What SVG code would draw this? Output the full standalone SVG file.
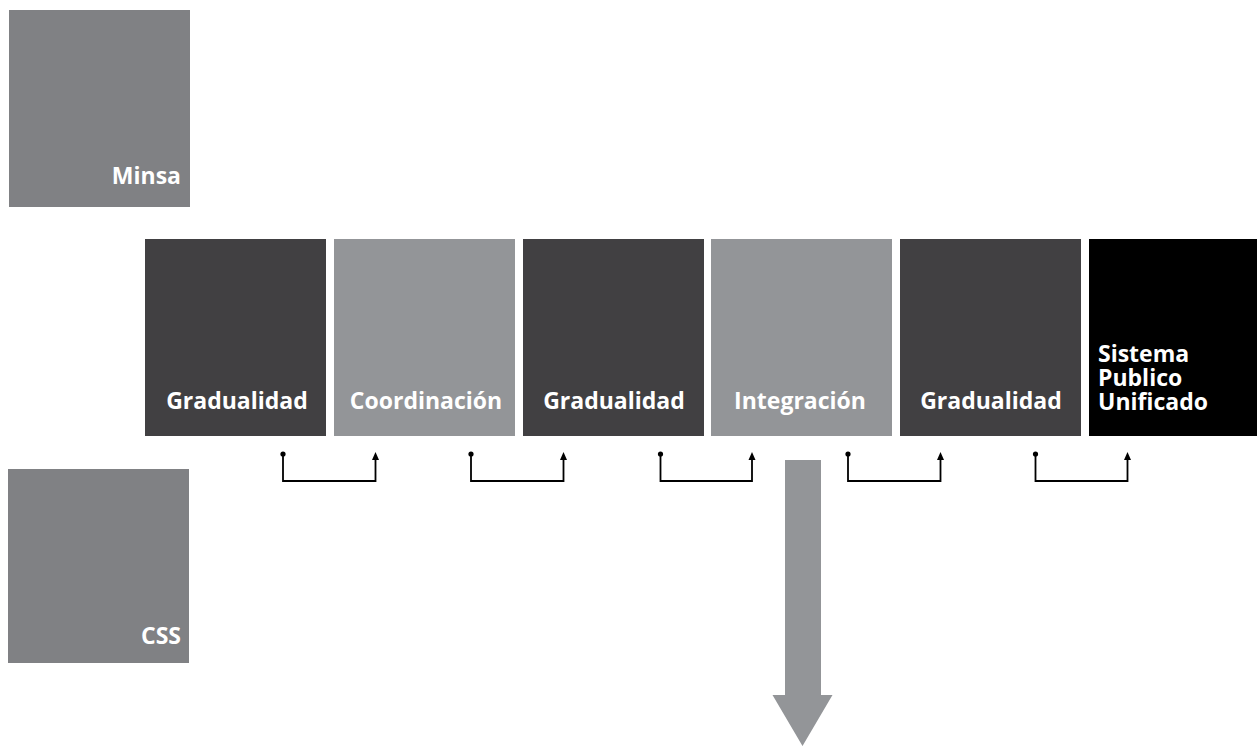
<svg xmlns="http://www.w3.org/2000/svg" width="1257" height="746" viewBox="0 0 1257 746">
<defs>
<style>
.lbl{font-family:"Open Sans","Noto Sans","Liberation Sans",sans-serif;font-weight:bold;fill:#fff;font-size:23px}
.side{fill:#808184}
.dark{fill:#414042}
.light{fill:#939598}
.black{fill:#000}
.conn{fill:none;stroke:#000;stroke-width:1.8}
</style>
</defs>
<rect width="1257" height="746" fill="#fff"/>
<g id="minsa"><rect class="side" x="9" y="10" width="181" height="197"/><text class="lbl" x="181" y="184" text-anchor="end">Minsa</text></g>
<g id="css"><rect class="side" x="8" y="469" width="181" height="194"/><text class="lbl" x="181" y="644" text-anchor="end">CSS</text></g>
<g id="b1"><rect class="dark" x="145" y="239" width="181" height="197"/><text class="lbl" x="237" y="409" text-anchor="middle">Gradualidad</text></g>
<g id="b2"><rect class="light" x="334" y="239" width="181" height="197"/><text class="lbl" x="426" y="409" text-anchor="middle">Coordinación</text></g>
<g id="b3"><rect class="dark" x="523" y="239" width="181" height="197"/><text class="lbl" x="614" y="409" text-anchor="middle">Gradualidad</text></g>
<g id="b4"><rect class="light" x="711" y="239" width="181" height="197"/><text class="lbl" x="800" y="409" text-anchor="middle">Integración</text></g>
<g id="b5"><rect class="dark" x="900" y="239" width="181" height="197"/><text class="lbl" x="991" y="409" text-anchor="middle">Gradualidad</text></g>
<g id="b6"><rect class="black" x="1089" y="239" width="168" height="197"/><text class="lbl" x="1098"><tspan x="1098" y="362">Sistema</tspan><tspan x="1098" y="386">Publico</tspan><tspan x="1098" y="410">Unificado</tspan></text></g>
<g id="connectors">
<g id="c1"><path class="conn" d="M283,454 V481 H375.5 V458"/><circle cx="283" cy="454" r="2.6"/><path d="M372,460 L375.5,452 L379,460 Z"/></g>
<g id="c2"><path class="conn" d="M471,454 V481 H563.5 V458"/><circle cx="471" cy="454" r="2.6"/><path d="M560,460 L563.5,452 L567,460 Z"/></g>
<g id="c3"><path class="conn" d="M660.5,454 V481 H752 V458"/><circle cx="660.5" cy="454" r="2.6"/><path d="M748.5,460 L752,452 L755.5,460 Z"/></g>
<g id="c4"><path class="conn" d="M848,454 V481 H940.5 V458"/><circle cx="848" cy="454" r="2.6"/><path d="M937,460 L940.5,452 L944,460 Z"/></g>
<g id="c5"><path class="conn" d="M1035.5,454 V481 H1127.5 V458"/><circle cx="1035.5" cy="454" r="2.6"/><path d="M1124,460 L1127.5,452 L1131,460 Z"/></g>
<g id="bigarrow"><path class="light" d="M785,460 H821 V695 H832.5 L802.5,746 L772.5,695 H785 Z"/></g>
</g>
</svg>
